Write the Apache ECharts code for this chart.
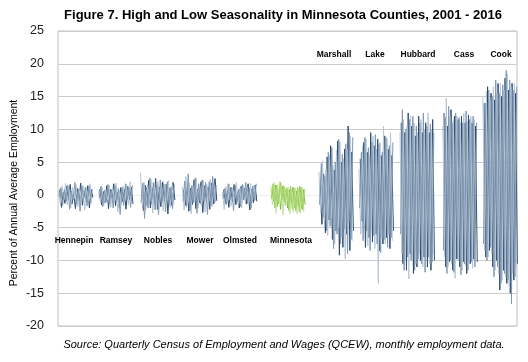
<!DOCTYPE html>
<html><head><meta charset="utf-8">
<script src="https://cdn.jsdelivr.net/npm/echarts@6/dist/echarts.min.js"></script>
<style>html,body{margin:0;padding:0;background:#fff}#c{width:528px;height:362px}</style>
</head><body><div id="c"></div><script>
const counties = ['Hennepin','Ramsey','Nobles','Mower','Olmsted','Minnesota','Marshall','Lake','Hubbard','Cass','Cook'];
const yTicks = [-20,-15,-10,-5,0,5,10,15,20,25];

const hennepin = [
 [0.5,-1.2,1.4,-0.8,1.8,-1.5,0.9,-2.0,1.2,-0.6,1.6,-1.8,0.7,-1.1,1.5,-2.3,1.0,-0.9,1.7,-1.3],
 [-0.3,1.1,-1.6,0.8,-1.0,1.5,-2.2,0.6,-0.8,1.9,-1.4,0.9,-2.5,1.3,-0.5,1.2,-1.7,1.4,-0.7,0.9],
 [0.8,-1.9,0.4,-1.3,1.3,-0.7,1.6,-1.4,0.3,-2.1,1.0,-0.9,1.8,-1.6,0.6,-1.0,1.4,-2.0,0.8,-0.4]];
const ramsey = [
 [0.6,-1.0,1.2,-1.6,0.9,-0.8,1.5,-1.9,1.1,-1.2,1.8,-2.6,0.7,-1.4,1.3,-0.9,1.6,-1.5,2.0,-1.1],
 [-0.5,1.3,-1.8,0.7,-1.1,1.6,-1.3,0.9,-2.0,1.4,-0.7,1.0,-3.0,1.2,-1.6,1.7,-0.8,1.1,-1.9,1.5],
 [0.9,-1.5,0.5,-1.2,1.4,-2.1,0.8,-0.6,1.7,-1.7,0.4,-1.9,1.1,-1.0,0.9,-2.2,1.3,-0.7,1.2,-1.4]];
const nobles = [
 [3.4,-1.5,2.0,-2.2,1.6,-1.0,2.4,-2.8,1.3,-1.7,2.1,-1.2,1.8,-2.5,1.5,-0.9,2.2,-1.9,1.4,-1.3],
 [-1.2,1.8,-3.6,1.2,-2.0,2.6,-1.4,1.9,-2.3,1.5,-3.0,2.3,-1.1,1.7,-2.6,2.0,-1.5,1.2,-2.1,1.6],
 [0.9,-2.4,1.5,-1.6,2.2,-2.0,1.0,-1.3,2.5,-2.2,1.2,-1.8,2.0,-1.0,1.6,-2.9,1.0,-1.6,1.9,-0.8]];
const mower = [
 [1.2,-2.3,2.8,-1.4,1.8,-2.9,1.5,-1.0,2.5,-2.0,1.3,-1.7,2.2,-2.6,1.6,-1.2,2.4,-1.8,1.7,-1.1],
 [-1.0,2.1,-1.8,3.2,-2.4,1.4,-1.2,2.6,-2.8,1.7,-1.4,2.3,-1.0,1.9,-3.0,2.0,-1.6,2.8,-1.3,1.5],
 [0.7,-1.6,1.3,-2.5,1.0,-1.5,2.3,-2.1,0.9,-1.2,2.0,-2.7,1.4,-1.0,1.2,-2.2,1.8,-1.4,2.5,-0.9]];
const olmsted = [
 [0.4,-2.2,1.3,-1.0,1.6,-1.7,0.8,-0.6,1.9,-1.4,1.0,-2.0,1.5,-0.9,1.2,-1.6,1.8,-1.1,1.4,-0.8],
 [-0.6,1.0,-1.5,1.7,-0.8,1.2,-2.4,1.4,-1.1,0.9,-1.8,1.6,-0.7,1.9,-1.3,1.1,-2.1,1.3,-0.9,1.7],
 [0.8,-1.3,0.6,-1.9,1.1,-1.0,1.6,-1.5,0.5,-2.0,1.3,-0.8,1.0,-1.4,1.7,-2.3,0.9,-1.2,1.5,-1.0]];
const minnesota = [
 [1.4,-1.5,1.9,-2.8,1.6,-1.2,1.8,-3.1,1.3,-1.0,1.2,-2.9,1.0,-2.7,1.1,-2.9,1.0,-2.8,1.2,-2.6],
 [-0.6,1.7,-2.0,1.5,-1.4,2.0,-0.8,1.4,-1.6,1.1,-2.4,1.3,-2.2,1.0,-2.5,1.2,-2.6,1.1,-2.3,0.9],
 [0.9,-1.0,1.5,-1.8,0.7,-2.2,1.3,-1.1,0.9,-2.0,0.8,-1.3,1.2,-2.0,0.6,-1.8,1.3,-2.1,0.8,-1.5]];
const marshall = [
 [3.5,-2.8,5.2,-4.0,4.0,-6.2,6.0,-3.5,4.5,-7.5,6.8,-5.0,8.0,-6.5,5.5,-9.8,7.0,-4.2,9.0,-7.0],
 [-1.5,4.8,-3.5,2.8,-5.5,6.5,-4.8,7.2,-8.2,5.0,-6.0,8.5,-7.5,6.2,-5.2,7.8,-9.0,9.5,-6.8,8.8],
 [2.0,-4.5,3.2,-5.8,5.8,-3.8,7.5,-6.8,3.8,-5.5,8.2,-9.2,5.0,-8.0,7.0,-6.0,10.5,-8.5,6.5,-5.5]];
const lake = [
 [4.0,-6.0,7.5,-4.5,8.5,-7.8,6.0,-5.0,9.0,-8.2,7.0,-13.5,8.0,-6.5,10.5,-7.5,8.5,-6.0,9.5,-7.0],
 [-2.0,6.5,-7.0,8.8,-5.5,7.2,-8.5,8.0,-6.2,9.2,-7.5,7.8,-8.8,6.5,-6.8,8.8,-8.0,7.5,-6.5,8.0],
 [5.5,-4.0,8.0,-8.0,6.5,-6.5,9.5,-7.2,7.5,-6.0,8.5,-8.5,6.0,-7.5,9.0,-6.5,7.0,-8.2,6.0,-5.5]];
const hubbard = [
 [9.5,-9.0,11.5,-10.0,10.5,-12.8,12.0,-9.5,11.0,-10.5,9.5,-9.0,11.5,-11.0,10.0,-9.5,12.5,-10.5,10.0,-9.0],
 [-6.0,13.0,-11.5,10.0,-9.5,11.5,-10.0,12.0,-11.5,10.5,-9.8,11.0,-10.5,12.5,-11.8,10.5,-9.5,10.8,-10.2,9.5],
 [11.0,-10.5,9.5,-11.5,12.5,-9.0,10.5,-12.0,9.0,-11.0,12.0,-10.0,9.5,-9.5,11.0,-11.0,9.5,-11.5,11.5,-10.0]];
const cass = [
 [10.5,-9.5,14.8,-11.0,12.0,-10.5,11.5,-12.7,12.0,-10.0,11.0,-11.5,12.5,-10.8,11.2,-10.0,12.0,-11.2,11.5,-10.0],
 [-8.5,11.8,-12.0,13.5,-10.0,11.0,-11.8,12.5,-9.8,11.8,-12.2,11.0,-10.5,12.8,-11.5,11.5,-10.2,12.0,-11.0,11.0],
 [12.5,-11.0,10.5,-10.2,13.0,-11.5,12.0,-9.8,11.5,-11.0,12.0,-10.2,11.0,-12.0,12.2,-10.5,11.0,-9.8,10.5,-10.2]];
const cook = [
 [15.0,-8.5,15.8,-9.5,14.5,-9.0,16.5,-11.5,15.5,-12.0,17.0,-13.0,16.0,-12.5,18.5,-14.0,16.5,-12.0,17.0,-11.0],
 [-7.5,14.0,-10.0,16.0,-8.0,15.0,-12.5,17.5,-11.0,15.5,-13.5,16.8,-12.0,19.0,-13.0,17.5,-16.6,16.0,-12.5,16.5],
 [14.0,-9.5,16.5,-8.5,15.5,-11.0,14.5,-10.0,17.0,-14.5,15.0,-11.5,17.8,-13.5,16.0,-15.0,17.0,-13.0,15.5,-10.5]];

const countyData = [hennepin,ramsey,nobles,mower,olmsted,minnesota,marshall,lake,hubbard,cass,cook];
// layout: starting month of each county block on the x axis (192 months each)
const blockStart = [0,220,450,680,900,1165,1430,1650,1875,2110,2330];
const span = 192;
// draw order: dark (back), light, mid (front)
const blues = ['#b7c6d5','#8198b1','#2a4a70'];
const greens = ['#c6e4a0','#a2d264','#7cbb3c'];
const drawOrder = [2, 0, 1];

const series = [];
countyData.forEach((sets, g) => {
  const pal = g === 5 ? greens : blues;
  drawOrder.forEach(k => {
    const vals = sets[k];
    const step = span / vals.length;
    series.push({
      type: 'line', name: counties[g] + k, silent: true, symbol: 'none',
      lineStyle: { width: 1, color: pal[k] },
      data: vals.map((v, i) => [blockStart[g] + (i + k / 3 + 0.3) * step, v]),
      animation: false
    });
  });
});

const lblBottom = [['Hennepin',74],['Ramsey',116],['Nobles',158],['Mower',200],['Olmsted',240],['Minnesota',291]];
const lblTop = [['Marshall',334],['Lake',375],['Hubbard',418],['Cass',464],['Cook',501]];
const lblFont = 'bold 8.5px "Liberation Sans", Arial, sans-serif';
const graphics = [];
lblBottom.forEach(([t,x]) => graphics.push({type:'text', x:x, y:241, style:{text:t, textAlign:'center', textVerticalAlign:'middle', font:lblFont, fill:'#000'}}));
lblTop.forEach(([t,x]) => graphics.push({type:'text', x:x, y:55, style:{text:t, textAlign:'center', textVerticalAlign:'middle', font:lblFont, fill:'#000'}}));
graphics.push({type:'text', x:283, y:15, style:{text:'Figure 7. High and Low Seasonality in Minnesota Counties, 2001 - 2016', textAlign:'center', textVerticalAlign:'middle', font:'bold 13px "Liberation Sans", Arial, sans-serif', fill:'#000'}});
graphics.push({type:'text', x:284, y:345, style:{text:'Source: Quarterly Census of Employment and Wages (QCEW), monthly employment data.', textAlign:'center', textVerticalAlign:'middle', font:'italic 11px "Liberation Sans", Arial, sans-serif', fill:'#000'}});
graphics.push({type:'text', x:14, y:193, rotation:Math.PI/2, style:{text:'Percent of Annual Average Employment', textAlign:'center', textVerticalAlign:'middle', font:'10.5px "Liberation Sans Narrow", "Liberation Sans", Arial, sans-serif', fill:'#000'}});

const chart = echarts.init(document.getElementById('c'), null, {renderer:'canvas'});
chart.setOption({
  animation: false,
  grid: { left: 58, right: 11, top: 31, bottom: 36, show: true, borderColor: '#c0c0c0', borderWidth: 1 },
  xAxis: { type: 'value', min: 0, max: 2520, show: false },
  yAxis: {
    type: 'value', min: yTicks[0], max: yTicks[yTicks.length-1], interval: 5,
    axisLine: { show: false }, axisTick: { show: false },
    axisLabel: { fontSize: 12.5, color: '#222', margin: 14, fontFamily: '"Liberation Sans", Arial, sans-serif' },
    splitLine: { lineStyle: { width: 1, color: ['#cccccc','#cccccc','#cccccc','#cccccc','#eeeeee','#cccccc','#cccccc','#cccccc','#cccccc','#cccccc'] } }
  },
  series: series,
  graphic: graphics
});
</script></body></html>
